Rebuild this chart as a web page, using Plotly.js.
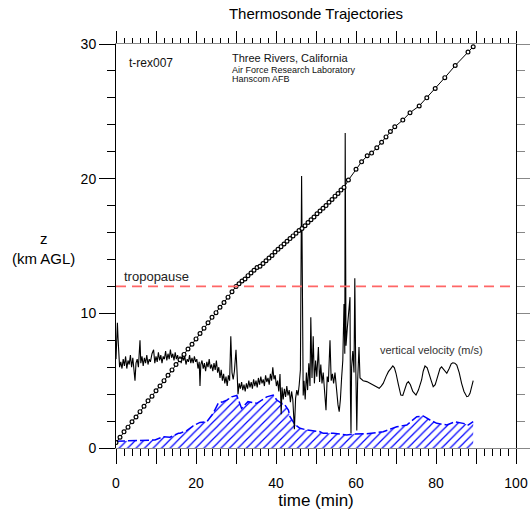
<!DOCTYPE html>
<html>
<head>
<meta charset="utf-8">
<script src="https://cdn.plot.ly/plotly-3.0.1.min.js"></script>
<style>html,body{margin:0;padding:0;background:#fff;}#chart{width:530px;height:510px;}</style>
</head>
<body>
<div id="chart"></div>
<script>
// Balloon trajectory: time (min) and altitude z (km AGL)
const trajTime = [0,1,2,3,4,5,6,7,8,9,10,11,12,13,14,15,16,17,18,19,20,21,22,23,24,25,26,27,28,29,30,
  30.75,31.5,32.25,33,33.75,34.5,35.25,36,36.75,37.5,38.25,39,39.75,40.5,41.25,42,42.75,43.5,44.25,45,45.75,
  46.5,47.25,48,48.75,49.5,50.25,51,51.75,52.5,53.25,54,54.75,55.5,56.25,57,
  58.1,60,61.4,62.8,63.9,65.2,66.4,67.5,68.6,69.7,71.7,73.5,75.8,77.7,79.8,82.2,84.8,88,89.3];
const trajZ = [0.4,0.8,1.2,1.55,1.95,2.3,2.7,3.1,3.5,3.85,4.25,4.6,5.0,5.4,5.8,6.2,6.55,6.95,7.35,7.7,8.1,8.5,8.9,9.3,9.7,10.05,10.45,10.8,11.2,11.6,12.0,
  12.2,12.4,12.55,12.8,13.0,13.2,13.4,13.5,13.7,13.9,14.1,14.3,14.55,14.75,14.95,15.15,15.35,15.55,15.75,15.95,16.15,
  16.3,16.5,16.75,16.95,17.15,17.4,17.6,17.8,18.0,18.25,18.45,18.7,18.9,19.15,19.35,
  19.9,20.7,21.25,21.7,21.9,22.3,22.7,23.1,23.5,23.85,24.35,24.9,25.4,26.0,26.7,27.5,28.4,29.4,29.8];

// Vertical velocity (m/s), drawn on the same vertical scale
const velTime = [0,0.2,0.35,0.5,0.7,0.9,1.2,1.5,1.8,2.1,2.4,2.7,3.0,3.3,3.6,3.9,4.2,4.5,4.75,5.0,5.3,5.6,6.0,6.2,6.5,6.8,7.1,7.4,7.7,8.0,8.3,8.6,9.0,9.4,9.7,
  10.0,10.3,10.6,10.9,11.2,11.5,11.8,12.1,12.4,12.7,13.0,13.3,13.6,13.9,14.2,14.5,14.8,15.1,15.4,15.7,16.0,16.3,16.6,16.9,17.2,17.5,17.8,18.1,18.4,18.7,19.0,19.3,19.6,19.9,
  20.2,20.5,20.8,21.0,21.2,21.5,21.8,22.1,22.4,22.7,23.0,23.3,23.6,23.9,24.2,24.5,24.8,25.1,25.4,25.7,26.0,26.3,26.6,26.9,27.2,27.5,27.8,28.1,28.4,28.7,29.0,29.3,29.6,
  30.0,30.3,30.5,30.8,31.1,31.4,31.7,32.0,32.3,32.6,32.9,33.2,33.5,33.8,34.1,34.4,34.7,35.0,35.3,35.6,35.9,36.2,36.5,36.8,37.1,37.4,37.7,38.0,38.3,38.6,38.9,39.2,39.5,39.8,
  40.1,40.4,40.7,41.0,41.3,41.5,41.8,42.1,42.4,42.7,43.0,43.3,43.6,43.9,44.2,44.6,44.9,45.2,45.5,45.8,46.1,46.4,46.6,46.8,47.0,47.3,47.6,47.9,48.2,48.5,48.7,49.0,49.3,49.6,49.9,
  50.2,50.6,50.9,51.2,51.5,51.8,52.1,52.5,52.8,53.1,53.5,53.8,54.1,54.4,54.75,55.1,55.5,55.8,56.1,56.4,56.7,57.0,57.2,57.3,57.5,57.8,58.1,58.5,58.6,58.75,58.9,59.2,59.5,59.7,59.9,
  60.2,60.4,60.75,61.0,61.8,62.7,63.5,64.3,65.0,65.8,66.3,66.8,67.5,68.1,68.7,69.2,69.6,70.0,70.6,71.2,71.7,72.2,72.7,73.1,73.6,74.2,75.0,75.6,76.0,76.4,76.8,77.25,77.8,78.3,78.8,79.3,79.8,
  80.2,80.6,81.0,81.4,82.0,82.7,83.3,83.8,84.2,84.7,85.2,85.8,86.4,87.0,87.7,88.1,88.5,88.9,89.3];
const velZ = [6.6,7.9,9.3,8.2,6.6,6.0,6.4,5.9,6.6,6.1,6.8,5.9,6.5,6.2,6.9,6.0,6.7,5.9,5.0,6.3,6.6,6.0,8.0,6.3,6.8,6.1,6.7,6.3,6.9,6.2,6.6,6.4,7.0,7.3,6.3,
  6.8,6.4,7.1,6.5,6.9,6.3,6.8,6.6,7.2,6.5,7.0,6.6,7.3,6.7,7.0,6.5,7.1,6.6,6.9,6.4,6.8,6.3,6.9,6.5,6.8,6.2,6.6,6.4,6.9,6.3,6.7,6.3,6.8,6.4,
  6.6,5.9,6.4,4.6,6.2,6.5,5.9,6.3,5.7,6.4,6.0,6.6,5.9,6.2,5.7,6.3,5.8,6.5,5.6,6.0,5.2,5.8,5.0,5.5,4.8,5.3,4.6,5.4,5.0,8.3,5.6,5.1,5.7,
  7.3,5.4,4.0,4.8,4.4,4.9,4.3,4.7,4.2,4.8,4.4,5.0,4.5,4.9,4.4,5.1,4.6,5.0,4.5,5.2,4.7,5.3,4.8,5.1,4.6,5.4,4.9,5.2,4.7,5.5,5.0,6.0,5.1,5.4,
  4.6,5.0,4.2,5.5,2.5,4.5,3.6,4.4,3.8,4.6,3.9,4.3,3.4,4.2,3.6,1.4,3.7,4.3,3.9,4.7,5.8,20.2,5.4,3.9,5.0,3.6,5.6,4.3,6.3,4.6,9.7,5.2,8.3,4.8,6.5,
  5.3,7.5,4.9,6.2,4.8,5.6,4.6,2.8,5.3,4.9,8.0,5.0,5.5,4.8,5.6,4.2,3.2,2.7,3.6,5.2,6.5,10.7,7.0,23.4,7.6,8.8,10.0,11.2,4.2,1.1,6.0,7.2,5.6,12.6,6.8,
  1.3,4.9,7.5,5.2,5.0,4.93,4.8,4.68,4.55,4.43,4.6,4.8,5.3,5.67,5.9,6.09,5.95,5.55,4.7,3.93,3.9,4.3,4.8,4.93,4.7,4.2,3.93,4.3,4.7,5.05,5.7,6.09,5.95,5.55,5.0,4.55,4.7,
  5.1,5.55,5.9,6.03,5.8,5.55,5.9,6.25,6.33,6.3,6.16,5.6,4.8,4.2,3.81,3.85,4.06,4.5,5.0];

// Hatched (blue) profile
const areaTime = [0,4.3,6.8,9.75,11.8,12.7,13.5,15.6,16,17.7,19.3,21,22.7,24.3,25.6,26.8,27.7,28.9,30.2,31.4,31.8,33,35.2,37.7,39.3,40.2,41.4,42.25,43.1,43.5,44.75,46,47.7,51,51.8,54.3,57.7,59.3,62.7,66,66.8,70.2,72.7,75.2,76.8,78.5,80.2,82.7,84.75,86.8,88.1,89.3];
const areaZ = [0.5,0.54,0.52,0.6,0.84,0.84,0.8,1.09,1.09,1.29,1.65,1.9,1.95,2.57,3.35,3.44,3.56,3.8,3.9,2.94,3.07,3.44,3.32,3.8,3.93,3.56,3.32,3.19,2.82,2.32,1.73,1.46,1.34,1.21,1.09,1.09,0.97,1.04,1.06,1.21,1.21,1.58,1.71,2.32,2.38,2.08,1.83,1.71,1.95,1.83,1.71,1.95];

const tropopauseZ = 12;
const xTickVals = [0,10,20,30,40,50,60,70,80,90,100];
const xTickText = ['0','','20','','40','','60','','80','','100'];
const yTickVals = [0,10,20,30];
const yTickText = ['0','10','20','30'];

const FONT = 'Liberation Sans, Arial, Helvetica, sans-serif';

const traces = [
  {
    x: areaTime, y: areaZ, type: 'scatter', mode: 'lines',
    fill: 'tozeroy', fillcolor: 'rgba(0,0,0,0)',
    fillpattern: {shape: '/', fgcolor: '#0000ff', bgcolor: 'rgba(0,0,0,0)', size: 6, solidity: 0.2},
    line: {color: '#0000ff', width: 1.5, dash: '9px,3px'},
    hoverinfo: 'skip', showlegend: false
  },
  {
    x: velTime, y: velZ, type: 'scatter', mode: 'lines',
    line: {color: '#000000', width: 1.1},
    showlegend: false
  },
  {
    x: trajTime, y: trajZ, type: 'scatter', mode: 'lines+markers',
    line: {color: '#000000', width: 1},
    marker: {symbol: 'circle', size: 3.8, color: '#ffffff', line: {color: '#000000', width: 1.2}},
    showlegend: false
  },
  {x: [null], y: [null], xaxis: 'x2', yaxis: 'y2', type: 'scatter', mode: 'lines', showlegend: false, hoverinfo: 'skip'}
];

const layout = {
  width: 530, height: 510,
  margin: {l: 116, r: 14, t: 44, b: 62, pad: 0},
  paper_bgcolor: '#ffffff', plot_bgcolor: '#ffffff',
  font: {family: FONT, color: '#000000', size: 14},
  showlegend: false,
  title: {text: 'Thermosonde Trajectories', font: {size: 15, family: FONT, color: '#000'},
          x: 0.5, xref: 'paper', xanchor: 'center', y: 1 - 14/510, yref: 'container', yanchor: 'middle'},
  xaxis: {
    range: [0, 100], tickmode: 'array', tickvals: xTickVals, ticktext: xTickText,
    ticks: 'outside', ticklen: 15, tickwidth: 1, tickcolor: '#000',
    minor: {dtick: 2, ticks: 'outside', ticklen: 7, tickwidth: 1, tickcolor: '#000'},
    showline: true, linecolor: '#888888', linewidth: 1,
    showgrid: false, zeroline: false, tickfont: {size: 14}, ticklabelstandoff: 7,
    title: {text: 'time (min)', font: {size: 17}, standoff: 8}
  },
  xaxis2: {
    overlaying: 'x', side: 'top', anchor: 'y2', range: [0, 100],
    tickmode: 'array', tickvals: xTickVals, ticks: 'outside', ticklen: 12, tickwidth: 1, tickcolor: '#000',
    minor: {dtick: 2, ticks: 'outside', ticklen: 5, tickwidth: 1, tickcolor: '#000'},
    showticklabels: false, showline: true, linecolor: '#888888', linewidth: 1,
    showgrid: false, zeroline: false
  },
  yaxis: {
    range: [0, 30], tickmode: 'array', tickvals: yTickVals, ticktext: yTickText,
    ticks: 'outside', ticklen: 16, tickwidth: 1, tickcolor: '#000',
    minor: {dtick: 2, ticks: 'outside', ticklen: 8, tickwidth: 1, tickcolor: '#000'},
    showline: true, linecolor: '#000', linewidth: 1,
    showgrid: false, zeroline: false, tickfont: {size: 14}
  },
  yaxis2: {
    overlaying: 'y', side: 'right', anchor: 'x2', range: [0, 30],
    tickmode: 'array', tickvals: yTickVals, ticks: 'outside', ticklen: 14, tickwidth: 1, tickcolor: '#888',
    minor: {dtick: 2, ticks: 'outside', ticklen: 8, tickwidth: 1, tickcolor: '#888'},
    showticklabels: false, showline: true, linecolor: '#000', linewidth: 1,
    showgrid: false, zeroline: false
  },
  shapes: [
    {type: 'line', xref: 'x', yref: 'y', x0: 0, x1: 100, y0: tropopauseZ, y1: tropopauseZ,
     line: {color: '#ff6666', width: 1.6, dash: '10px,6px'}}
  ],
  annotations: [
    {text: 'z<br>(km AGL)', xref: 'paper', yref: 'paper', x: 0, y: 1, xshift: -73, yshift: -204,
     xanchor: 'center', yanchor: 'middle', showarrow: false, font: {size: 15}, align: 'center'},
    {text: 't-rex007', xref: 'x', yref: 'y', x: 2.7, y: 28.6, xanchor: 'left', yanchor: 'middle', showarrow: false, font: {size: 12, color: '#111'}},
    {text: 'Three Rivers, California', xref: 'x', yref: 'y', x: 28.5, y: 28.96, xanchor: 'left', yanchor: 'middle', showarrow: false, font: {size: 11, color: '#111'}},
    {text: 'Air Force Research Laboratory', xref: 'x', yref: 'y', x: 28.5, y: 28.1, xanchor: 'left', yanchor: 'middle', showarrow: false, font: {size: 9, color: '#111'}},
    {text: 'Hanscom AFB', xref: 'x', yref: 'y', x: 28.5, y: 27.38, xanchor: 'left', yanchor: 'middle', showarrow: false, font: {size: 9, color: '#111'}},
    {text: 'tropopause', xref: 'x', yref: 'y', x: 1.5, y: 12.77, xanchor: 'left', yanchor: 'middle', showarrow: false, font: {size: 13, color: '#222'}},
    {text: 'vertical velocity (m/s)', xref: 'x', yref: 'y', x: 65.4, y: 7.28, xanchor: 'left', yanchor: 'middle', showarrow: false, font: {size: 11, color: '#333'}}
  ]
};

Plotly.newPlot('chart', traces, layout, {displayModeBar: false, staticPlot: true});
</script>
</body>
</html>
